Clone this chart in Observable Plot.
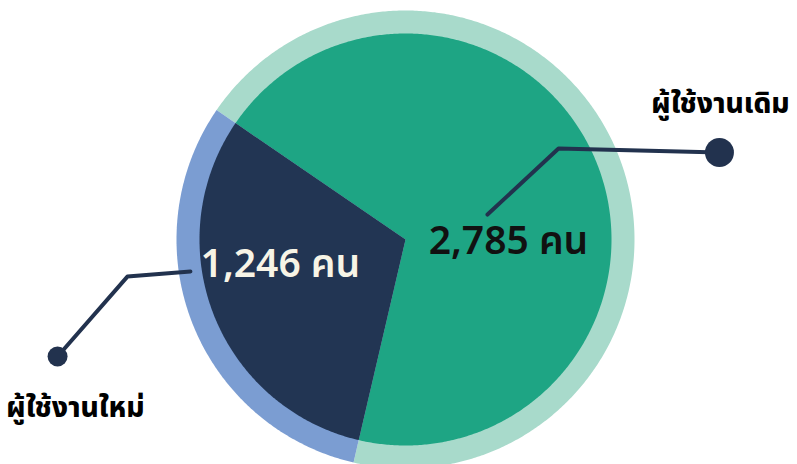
<!DOCTYPE html>
<html><head><meta charset="utf-8">
<script src="https://cdn.jsdelivr.net/npm/d3@7"></script>
<script src="https://cdn.jsdelivr.net/npm/@observablehq/plot@0.6"></script>
<style>html,body{margin:0;padding:0;background:#fff;overflow:hidden}</style>
</head><body><div id="chart"></div>
<script>
// ---- data ----
const categories = ["ผู้ใช้งานเดิม", "ผู้ใช้งานใหม่"];
const values = [2785, 1246];
const valueLabels = ["2,785 คน", "1,246 คน"];

// ---- styles ----
const pieColors = ["#1ea584", "#223553"];
const ringColors = ["#a8dacb", "#7b9dd2"];
const valueTextColors = ["#111111", "#f7f4e6"];
const FONT = "'Noto Sans Thai','Noto Sans','DejaVu Sans',sans-serif";

// ---- layout (unit = inner pie radius) ----
const W = 797, H = 464, CX = 405, CY = 239, R = 206, RING = 229 / R;
const startAngle = -55.6 * Math.PI / 180;
const layout = {
  "ผู้ใช้งานเดิม": {value: [0.50, 0.01], label: [1.529, -0.66], labelSize: 28, leader: [[0.398, -0.121], [0.743, -0.442], [1.524, -0.422]], dot: 14.5},
  "ผู้ใช้งานใหม่": {value: [-0.607, 0.121], label: [-1.602, 0.82], labelSize: 28, leader: [[-1.044, 0.155], [-1.35, 0.18], [-1.689, 0.568]], dot: 10}
};

const arcs = d3.pie().sort(null).startAngle(startAngle).endAngle(startAngle + 2 * Math.PI)(values);

function sector(a0, a1, r) {
  const n = Math.max(2, Math.ceil((a1 - a0) / (Math.PI / 360)));
  const pts = [[0, 0]];
  for (let i = 0; i <= n; i++) {
    const a = a0 + (a1 - a0) * i / n;
    pts.push([r * Math.sin(a), -r * Math.cos(a)]);
  }
  pts.push([0, 0]);
  return pts;
}
const feature = (a, i, r) => ({
  type: "Feature",
  properties: {category: categories[i], value: values[i]},
  geometry: {type: "Polygon", coordinates: [sector(a.startAngle, a.endAngle, r)]}
});
const ringFeatures = arcs.map((a, i) => feature(a, i, RING));
const pieFeatures = arcs.map((a, i) => feature(a, i, 1));

const leaders = categories.flatMap((c) => layout[c].leader.map(([x, y]) => ({category: c, x, y})));
const dots = categories.map((c) => {
  const p = layout[c].leader[layout[c].leader.length - 1];
  return {category: c, x: p[0], y: p[1], r: layout[c].dot};
});
const valueText = categories.map((c, i) => ({category: c, text: valueLabels[i], x: layout[c].value[0], y: layout[c].value[1], color: valueTextColors[i]}));
const catText = categories.map((c) => ({text: c, x: layout[c].label[0], y: layout[c].label[1], size: layout[c].labelSize}));

const chart = Plot.plot({
  width: W, height: H,
  margin: 0,
  projection: d3.geoIdentity().scale(R).translate([CX, CY]),
  color: {domain: categories, range: pieColors},
  r: {type: "identity"},
  style: {fontFamily: FONT, background: "#fff"},
  marks: [
    ...ringFeatures.map((f, i) => Plot.geo([f], {fill: ringColors[i], stroke: null})),
    Plot.geo(pieFeatures, {fill: (d) => d.properties.category, stroke: null}),
    Plot.line(leaders, {x: "x", y: "y", z: "category", stroke: "#22324e", strokeWidth: 4, curve: "linear"}),
    Plot.dot(dots, {x: "x", y: "y", r: "r", fill: "#22324e", stroke: null}),
    Plot.text(valueText, {x: "x", y: "y", text: "text", fill: (d) => d.color, fontSize: 39, fontWeight: 600, textAnchor: "middle", lineAnchor: "middle"}),
    ...catText.map((d) => Plot.text([d], {x: "x", y: "y", text: "text", fill: "#000", fontSize: d.size, fontWeight: 800, textAnchor: "middle", lineAnchor: "middle"}))
  ]
});
document.getElementById("chart").appendChild(chart);
</script>
</body></html>
